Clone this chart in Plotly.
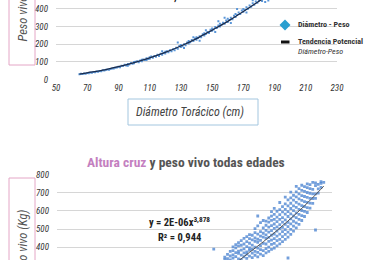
import plotly.graph_objects as go

# ---------------- data: top chart (Diámetro torácico vs peso vivo) ----------------
diam_x = [65, 66, 67, 68, 69, 70, 71, 72, 73, 74, 75, 76, 77, 78, 79, 80, 81, 82, 83, 84, 85, 86, 87, 88, 89, 90,
          91, 92, 93, 94, 95, 96, 97, 98, 99, 100, 100, 101, 102, 103, 104, 105, 105, 106, 107, 108, 109, 110, 110,
          111, 112, 113, 114, 115, 116, 117, 118, 119, 120, 120, 121, 122, 123, 124, 125, 126, 127, 128, 129, 130,
          130, 131, 132, 133, 134, 135, 135, 136, 137, 138, 139, 140, 140, 141, 142, 143, 144, 145, 145, 146, 147,
          148, 149, 150, 150, 151, 152, 153, 154, 155, 155, 156, 157, 158, 159, 160, 160, 161, 162, 163, 164, 165,
          165, 166, 167, 168, 169, 170, 170, 171, 172, 173, 174, 175, 176, 177, 178, 179, 180, 182, 184, 186,
          128, 132, 146, 152, 158, 162, 166, 172, 176, 142, 118, 108, 96, 138, 154]
diam_peso = [30, 32, 31, 34, 33, 37, 36, 40, 39, 42, 41, 45, 44, 48, 47, 52, 51, 55, 57, 56, 60, 62, 63, 66, 68, 72,
             70, 78, 77, 83, 80, 88, 85, 94, 90, 99, 92, 100, 104, 98, 108, 112, 104, 114, 110, 120, 116, 126, 118,
             130, 124, 134, 129, 140, 134, 146, 141, 150, 158, 148, 160, 154, 166, 160, 172, 166, 180, 174, 190, 184,
             196, 188, 200, 194, 210, 204, 218, 212, 224, 218, 232, 226, 240, 236, 246, 240, 256, 250, 262, 258, 270,
             264, 282, 276, 290, 284, 298, 292, 306, 300, 316, 310, 322, 316, 334, 326, 344, 338, 350, 342, 362, 354,
             372, 366, 380, 372, 392, 384, 400, 394, 410, 402, 420, 412, 432, 424, 442, 436, 448, 445, 440, 448,
             210, 178, 280, 270, 350, 320, 400, 380, 450, 220, 160, 110, 78, 240, 330]
# potential trend
diam_trend_x = [65, 70, 80, 90, 100, 110, 120, 130, 140, 150, 160, 170, 180, 186]
diam_trend_y = [31, 38, 53, 73, 96, 123, 154, 190, 232, 280, 330, 386, 444, 480]

# ---------------- data: bottom chart (Altura cruz vs peso vivo) ----------------
alt_cols = [131, 132, 133, 134, 135, 136, 137, 138, 139, 140, 141, 142, 143, 144, 145, 146, 147, 148, 149, 150,
            151, 152, 153, 154, 155, 156, 157, 158, 159, 160, 161, 162, 163, 164, 165, 166, 167]
alt_col_peso = [
    [333, 346],
    [338, 361],
    [331, 352, 377],
    [340, 358, 381, 402],
    [349, 371, 397, 415],
    [336, 366, 379, 408, 426],
    [332, 357, 384, 411, 437],
    [348, 369, 391, 418, 449],
    [339, 362, 375, 404, 431, 458],
    [351, 383, 396, 422, 447, 470],
    [343, 368, 389, 412, 441, 466],
    [356, 377, 401, 433, 452, 481, 503],
    [347, 372, 395, 427, 444, 472, 518, 572],
    [362, 387, 409, 438, 461, 486, 536],
    [354, 381, 421, 456, 477, 506, 547],
    [369, 392, 418, 449, 468, 493, 521, 544],
    [377, 401, 432, 454, 483, 511, 538, 561],
    [388, 416, 439, 466, 491, 519, 548, 571, 596],
    [396, 421, 448, 473, 504, 528, 553, 581, 614],
    [408, 437, 461, 489, 512, 541, 566, 598],
    [419, 443, 472, 501, 524, 553, 579, 607, 646],
    [431, 458, 486, 509, 538, 563, 594, 623],
    [443, 471, 497, 526, 551, 582, 608, 639, 676],
    [341, 456, 483, 514, 537, 569, 596, 627, 661],
    [471, 498, 529, 556, 584, 613, 642, 671, 703],
    [489, 516, 543, 572, 601, 628, 659, 686],
    [507, 534, 563, 589, 619, 647, 677, 704, 735],
    [526, 553, 581, 608, 637, 666, 694, 722],
    [547, 574, 602, 629, 658, 684, 713, 741],
    [569, 597, 624, 651, 679, 707, 733],
    [591, 618, 647, 674, 701, 728, 748],
    [615, 643, 669, 697, 722, 744],
    [641, 668, 693, 718, 757],
    [495, 669, 694, 739, 754],
    [698, 721, 746],
    [729, 751, 761],
    [757],
]
alt_extra_x = [127]
alt_extra_peso = [390]
alt_trend_x = [136, 140, 145, 150, 155, 160, 165, 167]
alt_trend_y = [325, 372, 430, 492, 558, 628, 704, 736]

alt_x = [c for c, col in zip(alt_cols, alt_col_peso) for _ in col] + alt_extra_x
alt_peso = [v for col in alt_col_peso for v in col] + alt_extra_peso

# ---------------- figure ----------------
W, H = 380, 260
FONT = "Liberation Sans Narrow, Roboto Condensed, DejaVu Sans Condensed, Arial Narrow, sans-serif"
GRID = "#d6d6d6"


def px(x):
    return x / W


def py(y):
    return 1 - y / H


fig = go.Figure()
fig.add_trace(go.Scatter(x=diam_x, y=diam_peso, mode="markers", xaxis="x", yaxis="y",
                         marker=dict(symbol="square", size=2, color="#5a96d8", line=dict(width=0)),
                         showlegend=False, hoverinfo="skip"))
fig.add_trace(go.Scatter(x=diam_trend_x, y=diam_trend_y, mode="lines", xaxis="x", yaxis="y",
                         line=dict(color="#1b2c4c", width=1.3, shape="spline"), showlegend=False))
fig.add_trace(go.Scatter(x=alt_x, y=alt_peso, mode="markers", xaxis="x2", yaxis="y2",
                         marker=dict(symbol="square", size=2.8, color="rgba(80,135,210,0.8)", line=dict(width=0)),
                         showlegend=False, hoverinfo="skip"))
fig.add_trace(go.Scatter(x=alt_trend_x, y=alt_trend_y, mode="lines", xaxis="x2", yaxis="y2",
                         line=dict(color="#555555", width=1, shape="spline"), showlegend=False))

tickfont = dict(family=FONT, size=9, color="#333333", style="italic")

fig.update_layout(
    width=W, height=H, margin=dict(l=0, r=0, t=0, b=0, autoexpand=False),
    paper_bgcolor="white", plot_bgcolor="white", showlegend=False,
    xaxis=dict(domain=[px(56), px(337)], anchor="y", range=[50, 230], tick0=50, dtick=20,
               showgrid=False, zeroline=False, showline=False, ticks="", tickfont=tickfont,
               ticklabelstandoff=1, automargin=False),
    yaxis=dict(domain=[py(79.5), 1], anchor="x", range=[0, 451], tick0=0, dtick=100,
               showgrid=True, gridcolor=GRID, gridwidth=1.3, zeroline=False, showline=False,
               ticks="", tickfont=tickfont, ticklabelstandoff=7, automargin=False),
    xaxis2=dict(domain=[px(57), px(332)], anchor="y2", range=[70, 170], showticklabels=False,
                showgrid=False, zeroline=False, showline=False, ticks="", automargin=False),
    yaxis2=dict(domain=[0, py(174.5)], anchor="x2", range=[330, 800], tick0=0, dtick=100,
                showgrid=True, gridcolor=GRID, gridwidth=1.3, zeroline=False, showline=False,
                ticks="", tickfont=tickfont, ticklabelstandoff=7, automargin=False),
)

shapes = [
    # y-title boxes (pink)
    dict(type="rect", xref="paper", yref="paper", x0=px(9), x1=px(35), y0=py(65), y1=py(-80),
         line=dict(color="#e4a6c6", width=1)),
    dict(type="rect", xref="paper", yref="paper", x0=px(9), x1=px(35), y0=py(340), y1=py(178),
         line=dict(color="#e4a6c6", width=1)),
    # x-title box (light blue)
    dict(type="rect", xref="paper", yref="paper", x0=px(128), x1=px(258), y0=py(125), y1=py(99),
         line=dict(color="#a3c6df", width=1)),
    # legend symbols
    dict(type="path", xref="paper", yref="paper",
         path=f"M {px(285)},{py(19.5)} L {px(290.5)},{py(25)} L {px(285)},{py(30.5)} L {px(279.5)},{py(25)} Z",
         fillcolor="#2a9fd0", line=dict(width=0)),
    dict(type="line", xref="paper", yref="paper", x0=px(281), x1=px(289.5), y0=py(42), y1=py(42),
         line=dict(color="#111111", width=3)),
]
fig.update_layout(shapes=shapes)

ann = [
    dict(text="<b>R² = 0,994</b>", x=px(171), y=py(4.5), xanchor="center", yanchor="bottom",
         font=dict(family=FONT, size=11, color="#222222")),
    dict(text="<b>Diámetro - Peso</b>", x=px(296), y=py(25), xanchor="left", yanchor="middle",
         font=dict(family=FONT, size=8, color="#333333")),
    dict(text="<b>Tendencia Potencial</b>", x=px(296), y=py(41), xanchor="left", yanchor="middle",
         font=dict(family=FONT, size=8, color="#333333")),
    dict(text="Diámetro-Peso", x=px(296), y=py(52), xanchor="left", yanchor="middle",
         font=dict(family=FONT, size=8, color="#333333", style="italic")),
    dict(text="Peso vivo (Kg)", textangle=-90, x=px(22), y=py(44), xanchor="center", yanchor="bottom",
         font=dict(family=FONT, size=12.5, color="#555555", style="italic")),
    dict(text="Diámetro Torácico (cm)", x=px(190), y=py(112), xanchor="center", yanchor="middle",
         font=dict(family=FONT, size=12, color="#444444", style="italic")),
    dict(text="<b><span style='color:#c47fc0'>Altura cruz</span> y peso vivo todas edades</b>",
         x=px(186), y=py(162), xanchor="center", yanchor="middle",
         font=dict(family=FONT, size=13.5, color="#555555")),
    dict(text="Peso vivo (Kg)", textangle=-90, x=px(22), y=py(208), xanchor="center", yanchor="top",
         font=dict(family=FONT, size=12.5, color="#555555", style="italic")),
    dict(text="<b>y = 2E-06x<sup>3,878</sup></b>", x=px(179), y=py(222), xanchor="center", yanchor="middle",
         font=dict(family=FONT, size=10.5, color="#222222")),
    dict(text="<b>R² = 0,944</b>", x=px(179), y=py(237), xanchor="center", yanchor="middle",
         font=dict(family=FONT, size=10.5, color="#222222")),
]
for a in ann:
    a.update(xref="paper", yref="paper", showarrow=False)
fig.update_layout(annotations=ann)

fig.write_html("out.html")
